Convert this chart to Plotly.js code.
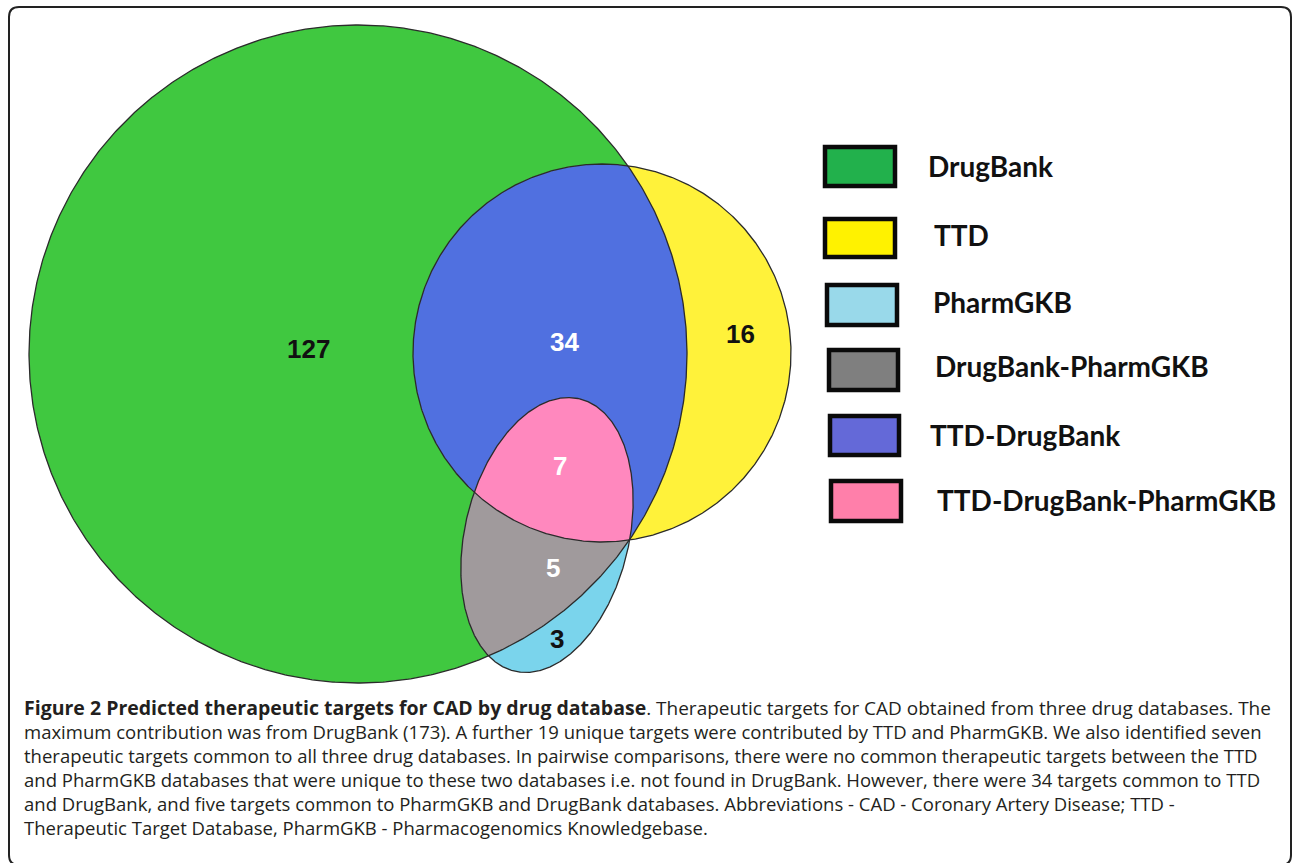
<!DOCTYPE html>
<html>
<head>
<meta charset="utf-8">
<script src="https://cdn.plot.ly/plotly-3.0.1.min.js"></script>
<style>
  html, body { margin: 0; padding: 0; background: #ffffff; }
  #chart { width: 1293px; height: 863px; }
</style>
</head>
<body>
<div id="chart"></div>
<script>
// ---------------- data ----------------
const setNames = ['DrugBank', 'TTD', 'PharmGKB'];
const regionNames = ['DrugBank', 'TTD-DrugBank', 'TTD', 'TTD-DrugBank-PharmGKB', 'DrugBank-PharmGKB', 'PharmGKB'];
const regionCounts = [127, 34, 16, 7, 5, 3];
const legendLabels = ['DrugBank', 'TTD', 'PharmGKB', 'DrugBank-PharmGKB', 'TTD-DrugBank', 'TTD-DrugBank-PharmGKB'];
const legendColors = ['#22b14c', '#fff200', '#99d9ea', '#7f7f7f', '#6469d8', '#ff7faa'];
const captionBold = 'Figure 2 Predicted therapeutic targets for CAD by drug database';
const captionLines = [
  '. Therapeutic targets for CAD obtained from three drug databases. The',
  'maximum contribution was from DrugBank (173). A further 19 unique targets were contributed by TTD and PharmGKB. We also identified seven',
  'therapeutic targets common to all three drug databases. In pairwise comparisons, there were no common therapeutic targets between the TTD',
  'and PharmGKB databases that were unique to these two databases i.e. not found in DrugBank. However, there were 34 targets common to TTD',
  'and DrugBank, and five targets common to PharmGKB and DrugBank databases. Abbreviations - CAD - Coronary Artery Disease; TTD -',
  'Therapeutic Target Database, PharmGKB - Pharmacogenomics Knowledgebase.'
];

// ---------------- geometry / style ----------------
const W = 1293, H = 863;
function makeShape(cx, cy, a, b, thetaDeg) {
  const th = thetaDeg * Math.PI / 180;
  const u = [Math.sin(th), -Math.cos(th)];
  const v = [Math.cos(th), Math.sin(th)];
  const n = 900;
  const poly = [];
  for (let i = 0; i < n; i++) {
    const t = 2 * Math.PI * i / n;
    poly.push([cx + a * Math.cos(t) * u[0] + b * Math.sin(t) * v[0],
               cy + a * Math.cos(t) * u[1] + b * Math.sin(t) * v[1]]);
  }
  const inside = (p) => {
    const dx = p[0] - cx, dy = p[1] - cy;
    const pu = dx * u[0] + dy * u[1], pv = dx * v[0] + dy * v[1];
    return (pu / a) * (pu / a) + (pv / b) * (pv / b) <= 1.0000001;
  };
  return { poly, inside };
}
const G = makeShape(358, 354, 329, 329, 0);     // DrugBank
const T = makeShape(602, 353, 189, 189, 0);     // TTD
const P = makeShape(547, 535, 140, 82, 13.5);   // PharmGKB

function intersectAll(shapes) {
  let pts = [];
  shapes.forEach((s, i) => {
    s.poly.forEach(p => {
      if (shapes.every((o, j) => j === i || o.inside(p))) pts.push(p);
    });
  });
  const mx = pts.reduce((s, p) => s + p[0], 0) / pts.length;
  const my = pts.reduce((s, p) => s + p[1], 0) / pts.length;
  pts.sort((p, q) => Math.atan2(p[1] - my, p[0] - mx) - Math.atan2(q[1] - my, q[0] - mx));
  return pts;
}
function closed(pts) { return pts.concat([pts[0]]); }

function fillTrace(pts, color) {
  const c = closed(pts);
  return { type: 'scatter', mode: 'lines', x: c.map(p => p[0]), y: c.map(p => p[1]),
           fill: 'toself', fillcolor: color, line: { width: 0, color: color },
           hoverinfo: 'skip', showlegend: false };
}
function lineTrace(pts) {
  const c = closed(pts);
  return { type: 'scatter', mode: 'lines', x: c.map(p => p[0]), y: c.map(p => p[1]),
           line: { width: 1.3, color: '#2b2b2b' }, hoverinfo: 'skip', showlegend: false };
}

const regionColors = {
  'DrugBank': '#40c840', 'TTD': '#fff23a', 'PharmGKB': '#7ad4ec',
  'TTD-DrugBank': '#5070e0', 'DrugBank-PharmGKB': '#a09a9c', 'TTD-DrugBank-PharmGKB': '#ff88be'
};

const traces = [
  fillTrace(G.poly, regionColors['DrugBank']),
  fillTrace(T.poly, regionColors['TTD']),
  fillTrace(P.poly, regionColors['PharmGKB']),
  fillTrace(intersectAll([T, G]), regionColors['TTD-DrugBank']),
  fillTrace(intersectAll([P, G]), regionColors['DrugBank-PharmGKB']),
  fillTrace(intersectAll([P, G, T]), regionColors['TTD-DrugBank-PharmGKB']),
  lineTrace(G.poly), lineTrace(T.poly), lineTrace(P.poly)
];

// region count labels
const labelPos = {
  'DrugBank': [308, 349, '#111111'], 'TTD-DrugBank': [564, 342, '#ffffff'], 'TTD': [740, 334, '#111111'],
  'TTD-DrugBank-PharmGKB': [560, 466, '#ffffff'], 'DrugBank-PharmGKB': [553, 568, '#ffffff'], 'PharmGKB': [557, 639, '#111111']
};
const annotations = [];
regionNames.forEach((name, i) => {
  const p = labelPos[name];
  annotations.push({ x: p[0], y: p[1], xref: 'x', yref: 'y', text: '<b>' + regionCounts[i] + '</b>',
    showarrow: false, xanchor: 'center', yanchor: 'middle',
    font: { family: 'Liberation Sans, Arial, sans-serif', size: 26, color: p[2] } });
});

// legend
const legendBoxes = [[823, 145, 897, 188], [823, 217, 897, 259], [825, 283, 899, 327],
                     [827, 348, 900, 392], [828, 414, 901, 457], [829, 479, 903, 523]];
const legendText = [[926, 166], [932, 235], [931, 302], [933, 366], [928, 435], [935, 500]];
const shapes = [];
legendLabels.forEach((lab, i) => {
  const b = legendBoxes[i];
  shapes.push({ type: 'rect', xref: 'x', yref: 'y', x0: b[0] + 2, y0: b[1] + 2, x1: b[2] - 2, y1: b[3] - 2,
    fillcolor: legendColors[i], line: { color: '#0a0a0a', width: 4.5 } });
  annotations.push({ x: legendText[i][0], y: legendText[i][1], xref: 'x', yref: 'y', text: '<b>' + lab + '</b>',
    showarrow: false, xanchor: 'left', yanchor: 'middle',
    font: { family: 'Lato, Open Sans, sans-serif', size: 28, color: '#111111' } });
});

// frame
shapes.push({ type: 'path', xref: 'x', yref: 'y',
  path: 'M 19,7 L 1281,7 Q 1291,7 1291,17 L 1291,855 Q 1291,865 1281,865 L 19,865 Q 9,865 9,855 L 9,17 Q 9,7 19,7 Z',
  line: { color: '#222222', width: 2 }, fillcolor: 'rgba(0,0,0,0)' });

// caption
const captionY = [707, 731, 755, 779, 803, 827];
captionLines.forEach((line, i) => {
  const txt = (i === 0)
    ? '<span style="font-size:19.5px"><b>' + captionBold + '</b></span><span style="font-size:19px">' + line + '</span>'
    : line;
  annotations.push({ x: 22, y: captionY[i], xref: 'x', yref: 'y',
    text: txt,
    showarrow: false, xanchor: 'left', yanchor: 'middle',
    font: { family: 'Open Sans, Noto Sans, sans-serif', size: 18.5, color: '#231f20' } });
});

const layout = {
  width: W, height: H,
  margin: { l: 0, r: 0, t: 0, b: 0, pad: 0 },
  paper_bgcolor: '#ffffff', plot_bgcolor: '#ffffff',
  xaxis: { range: [0, W], visible: false, fixedrange: true },
  yaxis: { range: [H, 0], visible: false, fixedrange: true },
  showlegend: false,
  shapes: shapes,
  annotations: annotations
};
Plotly.newPlot('chart', traces, layout, { displayModeBar: false, staticPlot: true });
</script>
</body>
</html>
